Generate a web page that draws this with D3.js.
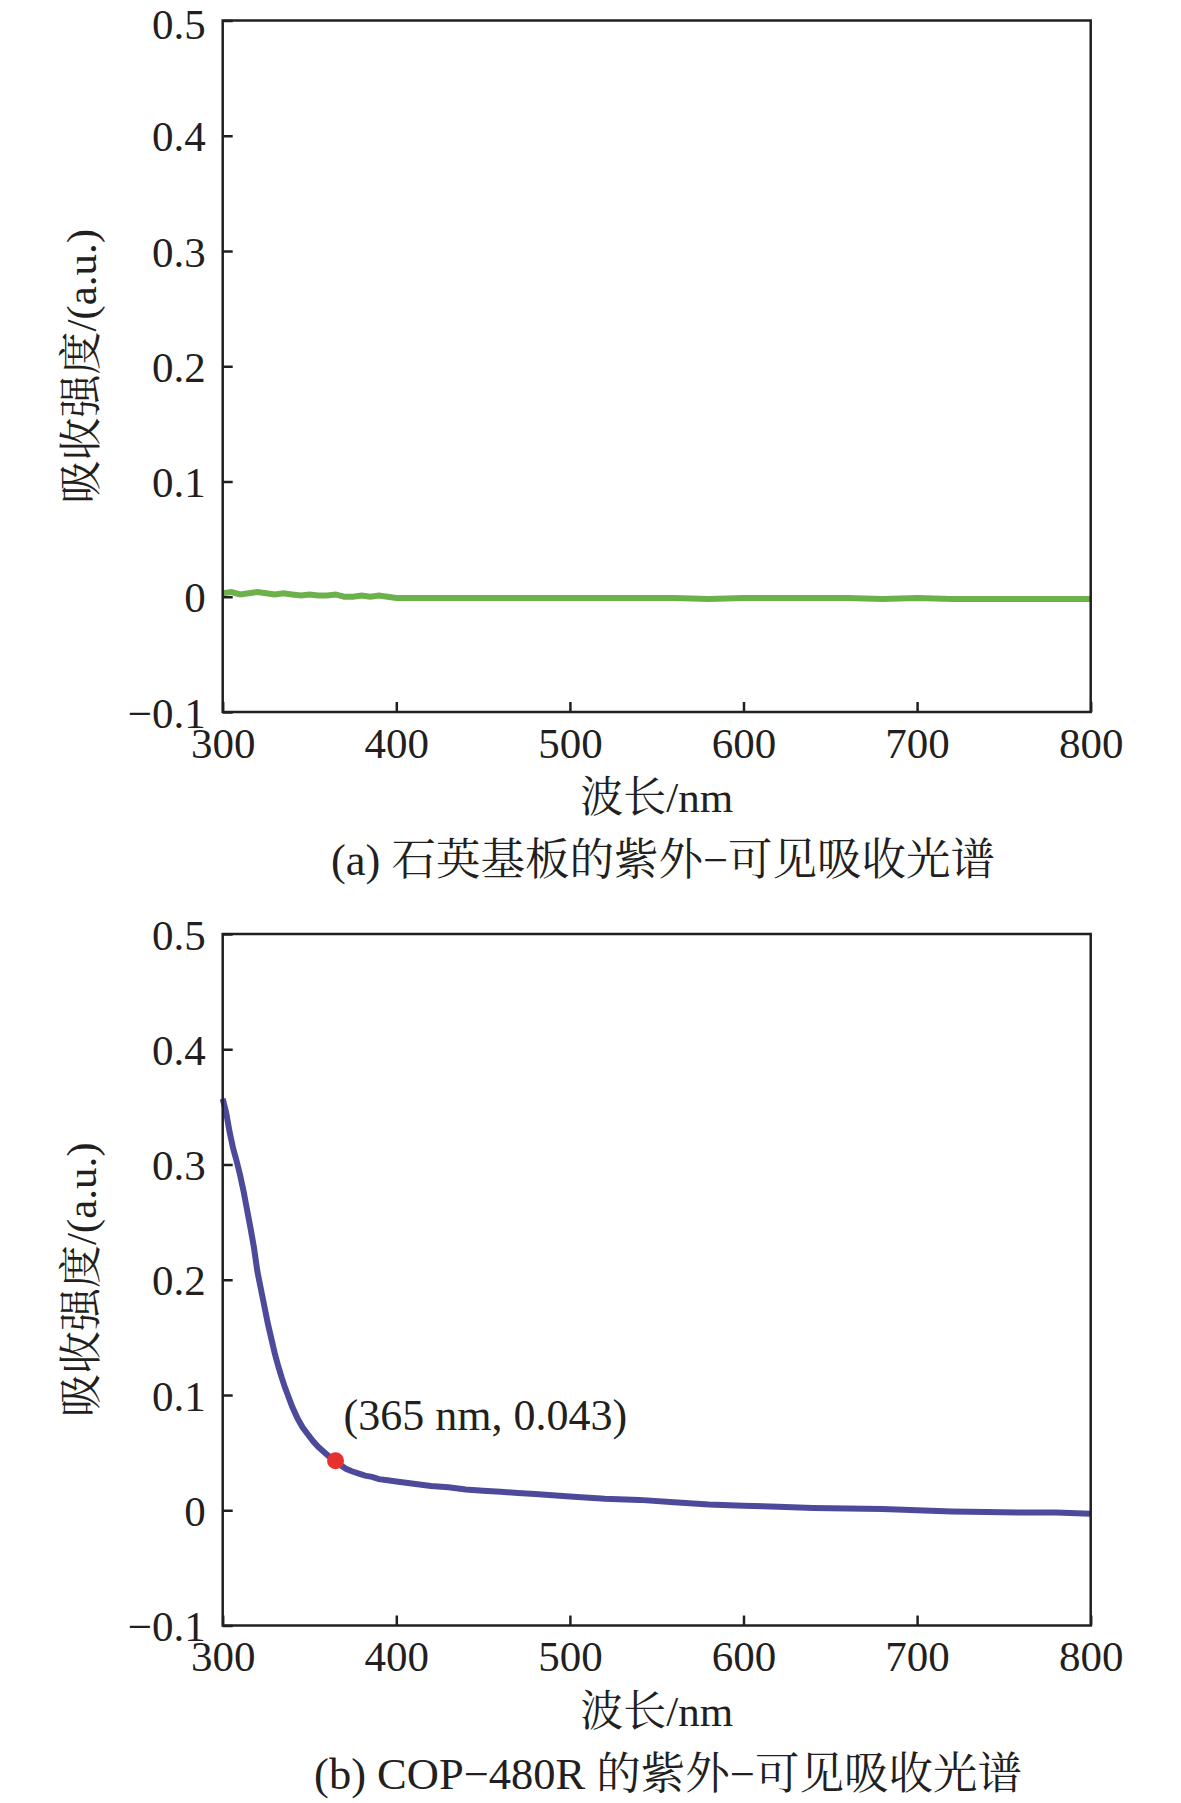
<!DOCTYPE html>
<html>
<head>
<meta charset="utf-8">
<script src="https://cdn.jsdelivr.net/npm/d3@7"></script>
<style>
  body { margin: 0; background: #fff; }
  text { font-family: 'Liberation Serif', 'Times New Roman', 'Noto Serif CJK SC', 'Noto Sans CJK SC', serif; fill: #231f20; }
</style>
</head>
<body>
<svg id="chart" width="1181" height="1803"></svg>
<script>
// panel (a): quartz substrate, nearly flat around zero
const quartzNm  = [300, 305, 310, 315, 320, 325, 330, 335, 340, 345, 350, 355, 360, 365, 370, 375, 380, 385, 390, 395,
                   400, 420, 440, 460, 480, 500, 520, 540, 560, 580, 600, 620, 640, 660, 680, 700, 720, 740, 760, 780, 800];
const quartzAbs = [0.003, 0.004, 0.002, 0.003, 0.004, 0.003, 0.002, 0.003, 0.002, 0.001, 0.002, 0.001, 0.001, 0.002, 0.000, 0.000, 0.001, 0.000, 0.001, 0.000,
                   -0.001, -0.001, -0.001, -0.001, -0.001, -0.001, -0.001, -0.001, -0.001, -0.002, -0.001, -0.001, -0.001, -0.001, -0.002, -0.001, -0.002, -0.002, -0.002, -0.002, -0.002];

// panel (b): COP-480R
const copNm  = [300, 302, 304, 306, 308, 310, 312, 314, 316, 318, 320, 322, 324, 326, 328, 330, 332, 334, 336, 338,
                340, 343, 346, 349, 352, 355, 358, 361, 365, 368, 371, 374, 378, 382, 386, 390, 395, 400,
                410, 420, 430, 440, 450, 460, 470, 480, 490, 500, 520, 540, 560, 580, 600, 620, 640, 660, 680, 700,
                720, 740, 760, 780, 800];
const copAbs = [0.357, 0.345, 0.328, 0.314, 0.303, 0.291, 0.277, 0.261, 0.245, 0.228, 0.207, 0.192, 0.177, 0.162, 0.149, 0.136, 0.125, 0.115, 0.106, 0.098,
                0.090, 0.080, 0.072, 0.066, 0.060, 0.055, 0.051, 0.047, 0.043, 0.039, 0.036, 0.034, 0.032, 0.030, 0.029, 0.027, 0.026, 0.025,
                0.023, 0.021, 0.020, 0.018, 0.017, 0.016, 0.015, 0.014, 0.013, 0.012, 0.010, 0.009, 0.007, 0.005, 0.004, 0.003, 0.002, 0.0015, 0.001, 0.000,
                -0.001, -0.0015, -0.002, -0.002, -0.003];

const markPoint = { nm: 365, abs: 0.043, label: '(365 nm, 0.043)' };

const xTicks = [300, 400, 500, 600, 700, 800];
const yTicks = [-0.1, 0, 0.1, 0.2, 0.3, 0.4, 0.5];
const yTitle = '吸收强度/(a.u.)';
const xTitle = '波长/nm';

const panels = [
  { nm: quartzNm, abs: quartzAbs, color: '#6cb14a', top: 20.5, caption: '(a) 石英基板的紫外−可见吸收光谱', capX: 663, mark: null },
  { nm: copNm, abs: copAbs, color: '#4e4a9b', top: 934, caption: '(b) COP−480R 的紫外−可见吸收光谱', capX: 668, mark: markPoint }
];

const svg = d3.select('#chart');
const left = 222.7, right = 1090.7, plotH = 691.5;
const fs = 43;

const x = d3.scaleLinear().domain([300, 800]).range([left, right]);

panels.forEach((p, pi) => {
  const y = d3.scaleLinear().domain([-0.1, 0.5]).range([p.top + plotH, p.top]);
  const g = svg.append('g');
  const pts = p.nm.map((d, i) => [d, p.abs[i]]);

  // spectrum
  g.append('path')
    .datum(pts)
    .attr('fill', 'none')
    .attr('stroke', p.color)
    .attr('stroke-width', 6)
    .attr('d', d3.line().x(d => x(d[0])).y(d => y(d[1])));

  if (p.mark) {
    g.append('circle')
      .attr('cx', x(p.mark.nm)).attr('cy', y(p.mark.abs))
      .attr('r', 8.5).attr('fill', '#e8302c');
    g.append('text')
      .attr('x', 343.6).attr('y', y(p.mark.abs) - 31)
      .attr('font-size', 44)
      .text(p.mark.label);
  }

  // axes, ticks pointing inward
  const yAxis = g.append('g')
    .attr('transform', `translate(${left},0)`)
    .call(d3.axisLeft(y).tickValues(yTicks).tickSize(-10).tickSizeOuter(0).tickPadding(17)
      .tickFormat(d => d === 0 ? '0' : (d < 0 ? '−' : '') + Math.abs(d).toFixed(1)));
  const xAxis = g.append('g')
    .attr('transform', `translate(0,${p.top + plotH})`)
    .call(d3.axisBottom(x).tickValues(xTicks).tickSize(-10).tickSizeOuter(0).tickPadding(15));

  [yAxis, xAxis].forEach(a => {
    a.select('.domain').remove();
    a.selectAll('line').attr('stroke', '#231f20').attr('stroke-width', 2.5);
    a.selectAll('text').attr('font-size', fs).attr('fill', '#231f20')
      .style('font-family', "'Liberation Serif', 'Times New Roman', serif");
  });
  yAxis.selectAll('text').attr('dy', '0.35em');
  // keep the top label of the first panel inside the page
  if (pi === 0) yAxis.selectAll('.tick').filter(d => d === 0.5).select('text').attr('y', 3);

  g.append('rect')
    .attr('x', left).attr('y', p.top)
    .attr('width', right - left).attr('height', plotH)
    .attr('fill', 'none').attr('stroke', '#231f20').attr('stroke-width', 2.5);

  g.append('text')
    .attr('transform', `translate(96,${p.top + plotH / 2}) rotate(-90)`)
    .attr('text-anchor', 'middle')
    .attr('font-size', fs)
    .text(yTitle);

  g.append('text')
    .attr('x', (left + right) / 2).attr('y', p.top + plotH + 100)
    .attr('text-anchor', 'middle')
    .attr('font-size', fs)
    .text(xTitle);

  g.append('text')
    .attr('x', p.capX).attr('y', p.top + plotH + 163)
    .attr('text-anchor', 'middle')
    .attr('font-size', 44.5)
    .text(p.caption);
});
</script>
</body>
</html>
